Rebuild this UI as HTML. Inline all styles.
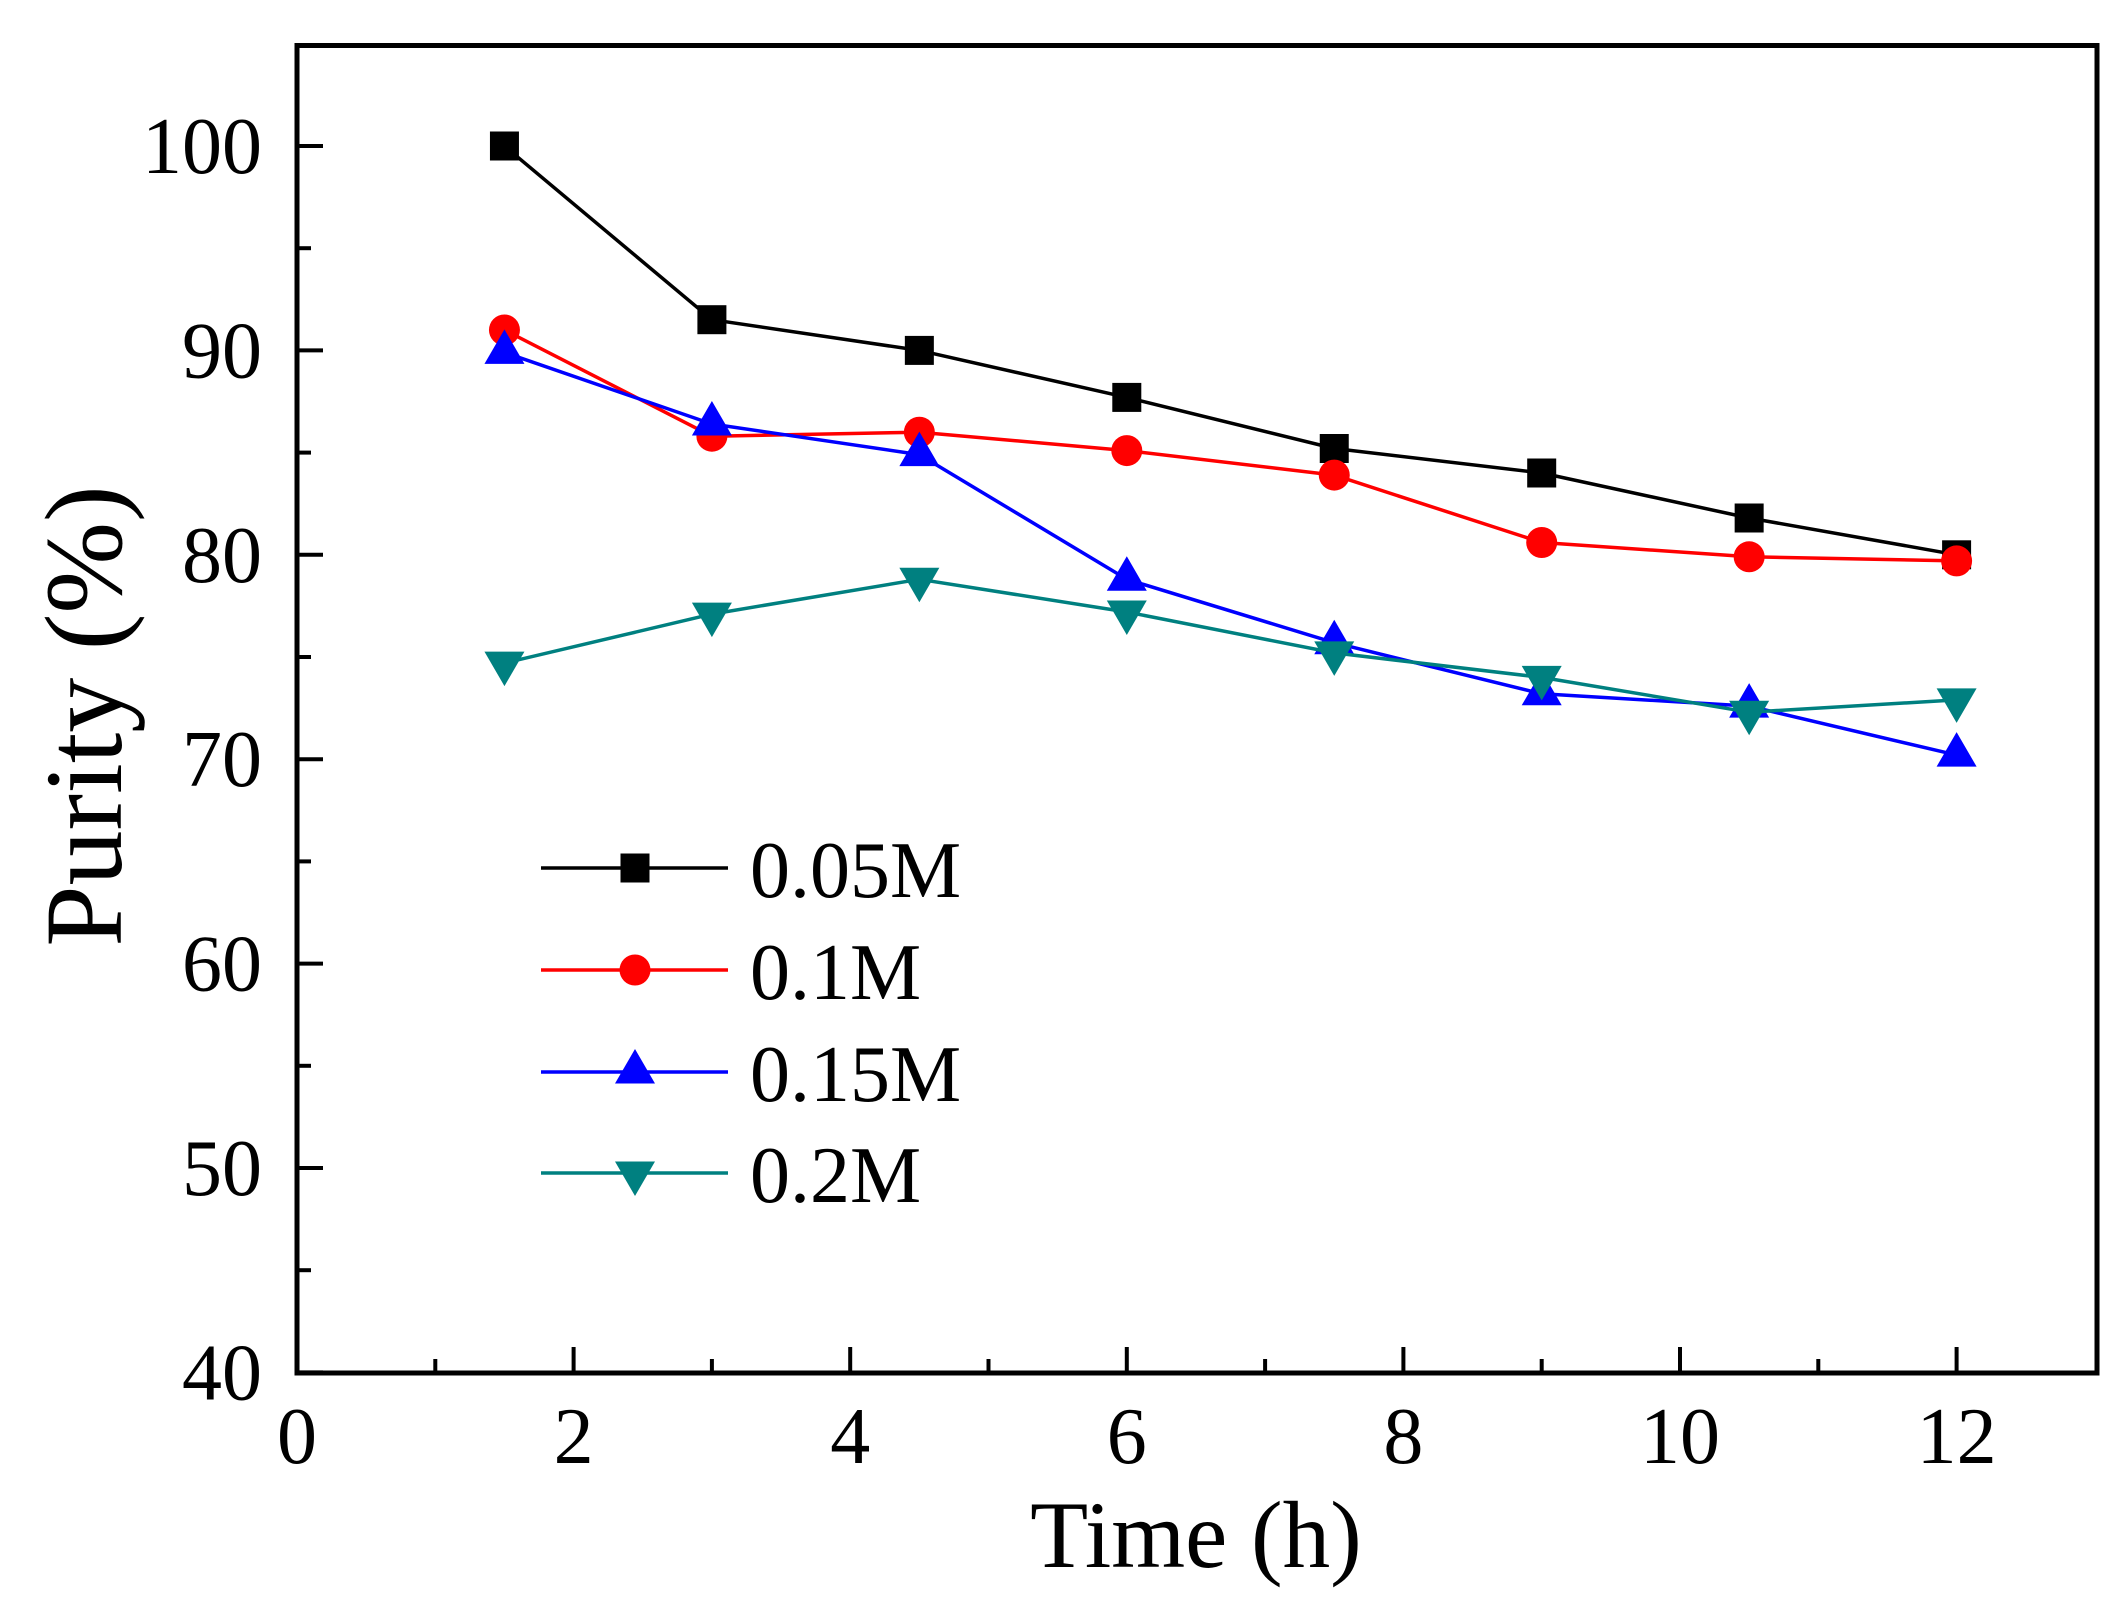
<!DOCTYPE html>
<html>
<head>
<meta charset="utf-8">
<style>
  html,body{margin:0;padding:0;background:#fff;}
  svg{display:block;}
  text{font-family:"Liberation Serif","Times New Roman",serif;fill:#000;}
</style>
</head>
<body>
<svg width="2125" height="1623" viewBox="0 0 2125 1623" xmlns="http://www.w3.org/2000/svg">
  <rect x="0" y="0" width="2125" height="1623" fill="#fff"/>

  <!-- ticks -->
  <g stroke="#000" stroke-width="4">
    <!-- x major -->
    <line x1="297" y1="1373" x2="297" y2="1347"/>
    <line x1="573.6" y1="1373" x2="573.6" y2="1347"/>
    <line x1="850.2" y1="1373" x2="850.2" y2="1347"/>
    <line x1="1126.8" y1="1373" x2="1126.8" y2="1347"/>
    <line x1="1403.4" y1="1373" x2="1403.4" y2="1347"/>
    <line x1="1680" y1="1373" x2="1680" y2="1347"/>
    <line x1="1956.6" y1="1373" x2="1956.6" y2="1347"/>
    <!-- x minor -->
    <line x1="435.3" y1="1373" x2="435.3" y2="1359"/>
    <line x1="711.9" y1="1373" x2="711.9" y2="1359"/>
    <line x1="988.5" y1="1373" x2="988.5" y2="1359"/>
    <line x1="1265.1" y1="1373" x2="1265.1" y2="1359"/>
    <line x1="1541.7" y1="1373" x2="1541.7" y2="1359"/>
    <line x1="1818.3" y1="1373" x2="1818.3" y2="1359"/>
    <!-- y major -->
    <line x1="297" y1="1372.4" x2="323" y2="1372.4"/>
    <line x1="297" y1="1168" x2="323" y2="1168"/>
    <line x1="297" y1="963.6" x2="323" y2="963.6"/>
    <line x1="297" y1="759.2" x2="323" y2="759.2"/>
    <line x1="297" y1="554.8" x2="323" y2="554.8"/>
    <line x1="297" y1="350.4" x2="323" y2="350.4"/>
    <line x1="297" y1="146" x2="323" y2="146"/>
    <!-- y minor -->
    <line x1="297" y1="1270.2" x2="311" y2="1270.2"/>
    <line x1="297" y1="1065.8" x2="311" y2="1065.8"/>
    <line x1="297" y1="861.4" x2="311" y2="861.4"/>
    <line x1="297" y1="657" x2="311" y2="657"/>
    <line x1="297" y1="452.6" x2="311" y2="452.6"/>
    <line x1="297" y1="248.2" x2="311" y2="248.2"/>
  </g>

  <!-- frame -->
  <rect x="297" y="45.5" width="1800" height="1327.5" fill="none" stroke="#000" stroke-width="5"/>

  <!-- y tick labels -->
  <g font-size="80" text-anchor="end">
    <text x="262" y="173">100</text>
    <text x="262" y="377.4">90</text>
    <text x="262" y="581.8">80</text>
    <text x="262" y="786.2">70</text>
    <text x="262" y="990.6">60</text>
    <text x="262" y="1195">50</text>
    <text x="262" y="1399.4">40</text>
  </g>

  <!-- x tick labels -->
  <g font-size="80" text-anchor="middle">
    <text x="297" y="1463">0</text>
    <text x="573.6" y="1463">2</text>
    <text x="850.2" y="1463">4</text>
    <text x="1126.8" y="1463">6</text>
    <text x="1403.4" y="1463">8</text>
    <text x="1680" y="1463">10</text>
    <text x="1956.6" y="1463">12</text>
  </g>

  <!-- axis titles -->
  <text x="1196" y="1567" font-size="95" text-anchor="middle">Time (h)</text>
  <text transform="translate(121,716) rotate(-90)" font-size="110" text-anchor="middle">Purity (%)</text>

  <!-- 0.05M -->
  <polyline fill="none" stroke="#000" stroke-width="3.5" stroke-linejoin="round" points="504.45,146 711.9,319.7 919.35,350.4 1126.8,397.4 1334.25,448.5 1541.7,473 1749.15,518 1956.6,554.8"/>
  <g fill="#000">
    <rect x="489.95" y="131.5" width="29" height="29"/>
    <rect x="697.4" y="305.2" width="29" height="29"/>
    <rect x="904.85" y="335.9" width="29" height="29"/>
    <rect x="1112.3" y="382.9" width="29" height="29"/>
    <rect x="1319.75" y="434" width="29" height="29"/>
    <rect x="1527.2" y="458.5" width="29" height="29"/>
    <rect x="1734.65" y="503.5" width="29" height="29"/>
    <rect x="1942.1" y="540.3" width="29" height="29"/>
  </g>

  <!-- 0.1M -->
  <polyline fill="none" stroke="#ff0000" stroke-width="3.5" stroke-linejoin="round" points="504.45,330 711.9,436.2 919.35,432.2 1126.8,450.6 1334.25,475.1 1541.7,542.5 1749.15,556.8 1956.6,560.9"/>
  <g fill="#ff0000">
    <circle cx="504.45" cy="330" r="15.5"/>
    <circle cx="711.9" cy="436.2" r="15.5"/>
    <circle cx="919.35" cy="432.2" r="15.5"/>
    <circle cx="1126.8" cy="450.6" r="15.5"/>
    <circle cx="1334.25" cy="475.1" r="15.5"/>
    <circle cx="1541.7" cy="542.5" r="15.5"/>
    <circle cx="1749.15" cy="556.8" r="15.5"/>
    <circle cx="1956.6" cy="560.9" r="15.5"/>
  </g>

  <!-- 0.15M -->
  <polyline fill="none" stroke="#0000ff" stroke-width="3.5" stroke-linejoin="round" points="504.45,352.4 711.9,424 919.35,454.6 1126.8,579.3 1334.25,642.7 1541.7,693.8 1749.15,706.1 1956.6,755.1"/>
  <g fill="#0000ff">
    <path d="M504.45,329.4 L524.45,363.9 L484.45,363.9 Z"/>
    <path d="M711.9,401 L731.9,435.5 L691.9,435.5 Z"/>
    <path d="M919.35,431.6 L939.35,466.1 L899.35,466.1 Z"/>
    <path d="M1126.8,556.3 L1146.8,590.8 L1106.8,590.8 Z"/>
    <path d="M1334.25,619.7 L1354.25,654.2 L1314.25,654.2 Z"/>
    <path d="M1541.7,670.8 L1561.7,705.3 L1521.7,705.3 Z"/>
    <path d="M1749.15,683.1 L1769.15,717.6 L1729.15,717.6 Z"/>
    <path d="M1956.6,732.1 L1976.6,766.6 L1936.6,766.6 Z"/>
  </g>

  <!-- 0.2M -->
  <polyline fill="none" stroke="#008080" stroke-width="3.5" stroke-linejoin="round" points="504.45,663.1 711.9,614.1 919.35,579.3 1126.8,612 1334.25,652.9 1541.7,677.4 1749.15,712.2 1956.6,699.9"/>
  <g fill="#008080">
    <path d="M504.45,686.1 L524.45,651.6 L484.45,651.6 Z"/>
    <path d="M711.9,637.1 L731.9,602.6 L691.9,602.6 Z"/>
    <path d="M919.35,602.3 L939.35,567.8 L899.35,567.8 Z"/>
    <path d="M1126.8,635 L1146.8,600.5 L1106.8,600.5 Z"/>
    <path d="M1334.25,675.9 L1354.25,641.4 L1314.25,641.4 Z"/>
    <path d="M1541.7,700.4 L1561.7,665.9 L1521.7,665.9 Z"/>
    <path d="M1749.15,735.2 L1769.15,700.7 L1729.15,700.7 Z"/>
    <path d="M1956.6,722.9 L1976.6,688.4 L1936.6,688.4 Z"/>
  </g>

  <!-- legend -->
  <g stroke-width="3.5">
    <line x1="541" y1="868" x2="728" y2="868" stroke="#000"/>
    <line x1="541" y1="970" x2="728" y2="970" stroke="#ff0000"/>
    <line x1="541" y1="1072" x2="728" y2="1072" stroke="#0000ff"/>
    <line x1="541" y1="1173" x2="728" y2="1173" stroke="#008080"/>
  </g>
  <rect x="620.5" y="853.5" width="29" height="29" fill="#000"/>
  <circle cx="635" cy="970" r="15.5" fill="#ff0000"/>
  <path d="M635,1049 L655,1083.5 L615,1083.5 Z" fill="#0000ff"/>
  <path d="M635,1196 L655,1161.5 L615,1161.5 Z" fill="#008080"/>
  <g font-size="80">
    <text x="750" y="897">0.05M</text>
    <text x="750" y="999">0.1M</text>
    <text x="750" y="1101">0.15M</text>
    <text x="750" y="1202">0.2M</text>
  </g>
</svg>
</body>
</html>
